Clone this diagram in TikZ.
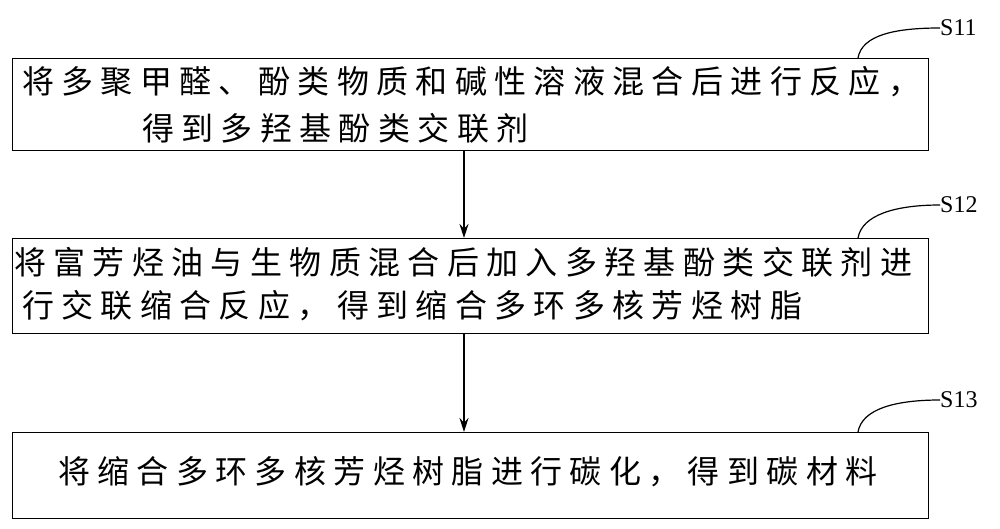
\documentclass[tikz,border=0pt]{standalone}
\usepackage{fontspec}
\usetikzlibrary{arrows.meta}
\setmainfont{Liberation Serif}
\newfontfamily\cjk[LetterSpace=23]{Noto Sans CJK SC}
\begin{document}
\begin{tikzpicture}[x=1pt,y=-1pt,
  boxs/.style={draw,line width=1.3pt},
  tx/.style={anchor=west,inner sep=0pt,font=\cjk\fontsize{32}{36}\selectfont},
  lab/.style={anchor=west,inner sep=0pt,font=\fontsize{24}{28}\selectfont},
  arr/.style={-{Stealth[length=14pt,width=9pt]},line width=1.2pt},
  crv/.style={line width=1.2pt}]
\useasboundingbox (0,0) rectangle (1000,529);
\node[boxs,minimum width=916pt,minimum height=92pt,anchor=north west] (b1) at (12,58) {};
\node[boxs,minimum width=916pt,minimum height=95pt,anchor=north west] (b2) at (12,238) {};
\node[boxs,minimum width=916pt,minimum height=86pt,anchor=north west] (b3) at (12,432) {};
\node[tx] (t11) at (22,82) {将多聚甲醛、酚类物质和碱性溶液混合后进行反应，};
\node[tx] (t12) at (142,128) {得到多羟基酚类交联剂};
\node[tx] (t21) at (14,262) {将富芳烃油与生物质混合后加入多羟基酚类交联剂进};
\node[tx] (t22) at (22,306) {行交联缩合反应，得到缩合多环多核芳烃树脂};
\node[tx] (t31) at (58,472) {将缩合多环多核芳烃树脂进行碳化，得到碳材料};
\draw[arr] (b1.south -| 464,0) -- (b2.north -| 464,0);
\draw[arr] (b2.south -| 464,0) -- (b3.north -| 464,0);
\node[lab] (s1) at (940,28) {S11};
\node[lab] (s2) at (940,205) {S12};
\node[lab] (s3) at (940,400) {S13};
\coordinate (c1) at (858,58);
\coordinate (c2) at (858,238);
\coordinate (c3) at (858,432);
\draw[crv] (c1) .. controls (862,35) and (895,28) .. (s1.west);
\draw[crv] (c2) .. controls (862,215) and (895,205) .. (s2.west);
\draw[crv] (c3) .. controls (862,409) and (895,400) .. (s3.west);
\end{tikzpicture}
\end{document}
